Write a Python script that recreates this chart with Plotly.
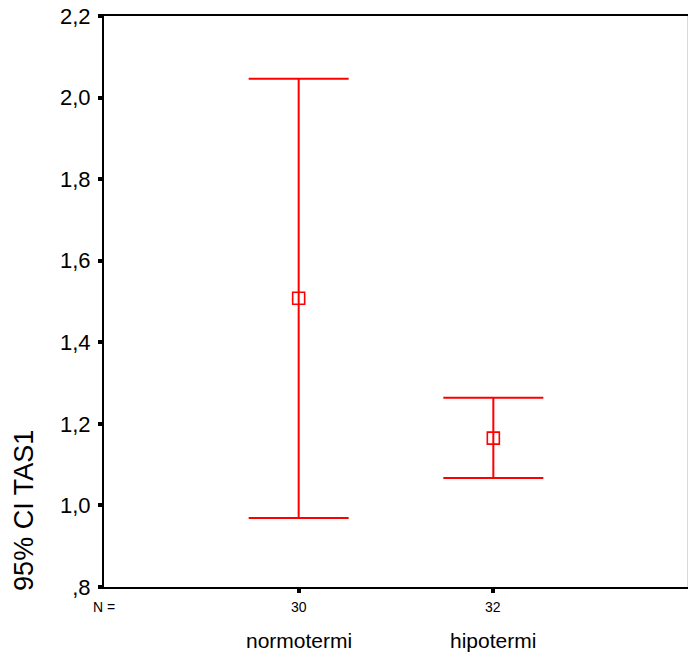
import plotly.graph_objects as go

groups = ["normotermi", "hipotermi"]
n_values = ["30", "32"]
means = [1.508, 1.165]
upper = [2.046, 1.264]
lower = [0.969, 1.067]
y_ticks = [0.8, 1.0, 1.2, 1.4, 1.6, 1.8, 2.0, 2.2]
y_ticktext = [",8", "1,0", "1,2", "1,4", "1,6", "1,8", "2,0", "2,2"]

xpos = list(range(len(groups)))
err_plus = [u - m for u, m in zip(upper, means)]
err_minus = [m - l for m, l in zip(means, lower)]

fig = go.Figure()
fig.add_trace(go.Scatter(
    x=xpos, y=means, mode="markers",
    marker=dict(symbol="square-open", size=12, color="#ff0000", line=dict(width=1.6, color="#ff0000")),
    error_y=dict(type="data", symmetric=False, array=err_plus, arrayminus=err_minus,
                 color="#ff0000", thickness=2, width=50),
    showlegend=False, hoverinfo="skip",
))

font_family = "Liberation Sans, Arial, sans-serif"

fig.update_layout(
    width=688, height=657,
    margin=dict(l=104, r=0, t=16, b=70),
    paper_bgcolor="white", plot_bgcolor="white",
    font=dict(family=font_family, color="black"),
    xaxis=dict(range=[-1, 2], tickvals=xpos, ticktext=[""] * len(xpos),
               showgrid=False, zeroline=False, showline=True, linecolor="black",
               linewidth=2, mirror=True, ticks="outside", ticklen=4, tickwidth=4,
               tickcolor="black"),
    yaxis=dict(range=[0.8, 2.2], tickvals=y_ticks, ticktext=y_ticktext,
               showgrid=False, zeroline=False, showline=True, linecolor="black",
               linewidth=2, mirror=False, ticks="outside", ticklen=4, tickwidth=4,
               tickcolor="black", ticklabelstandoff=3,
               tickfont=dict(size=22, family=font_family)),
    shapes=[dict(type="line", xref="paper", yref="paper", x0=0.9995, x1=0.9995, y0=0, y1=1,
                 line=dict(color="#d0d0d0", width=1))],
)

annotations = []
annotations.append(dict(x=0.0, y=-0.035, xref="paper", yref="paper", text="N =",
                        showarrow=False, xanchor="center", yanchor="middle",
                        font=dict(size=14, family=font_family)))
for xp, n, g in zip(xpos, n_values, groups):
    annotations.append(dict(x=xp, y=-0.035, xref="x", yref="paper", text=n,
                            showarrow=False, xanchor="center", yanchor="middle",
                            font=dict(size=14, family=font_family)))
    annotations.append(dict(x=xp, y=-0.093, xref="x", yref="paper", text=g,
                            showarrow=False, xanchor="center", yanchor="middle",
                            font=dict(size=21, family=font_family)))
annotations.append(dict(x=-0.137, y=0.135, xref="paper", yref="paper", text="95% CI TAS1",
                        showarrow=False, textangle=-90, xanchor="center", yanchor="middle",
                        font=dict(size=27, family=font_family)))
fig.update_layout(annotations=annotations)

fig.write_html("out.html")
